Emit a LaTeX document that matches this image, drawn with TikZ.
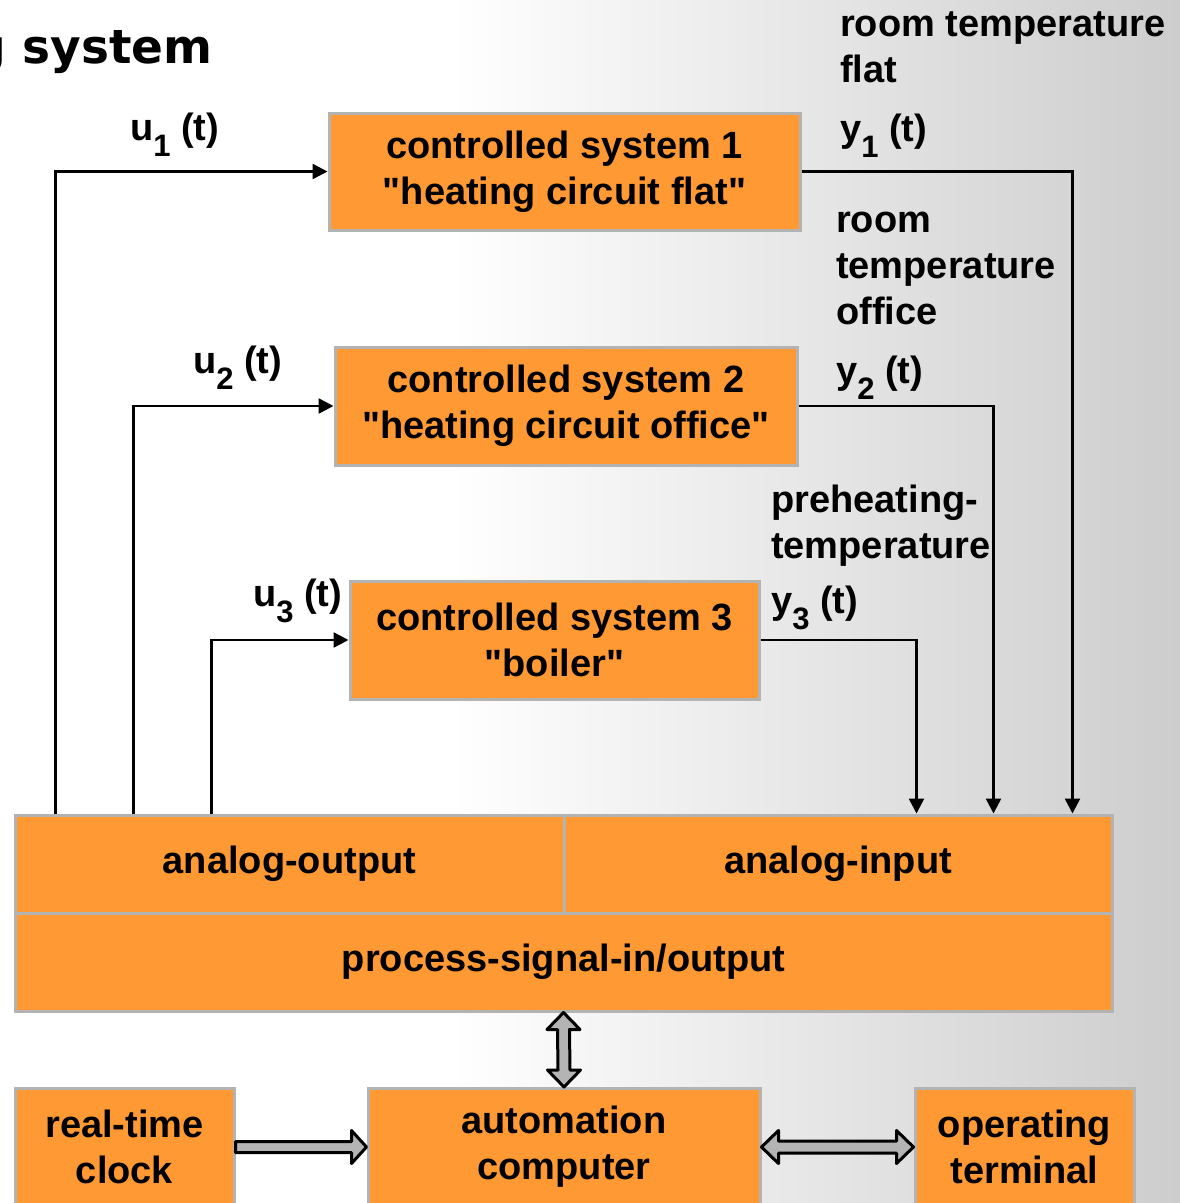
\documentclass[tikz,border=0pt]{standalone}
\usepackage{fontspec}
\setmainfont{Liberation Sans}
\newfontfamily\headfont{DejaVu Sans}
\usetikzlibrary{arrows.meta,calc}

\definecolor{boxorange}{HTML}{FF9933}
\definecolor{boxedge}{HTML}{B3B3B3}
\definecolor{arrowgray}{HTML}{B4B4B4}
\definecolor{bgright}{HTML}{CDCDCD}

% subscript index, lowered below the baseline
\newcommand\lowidx[1]{\raisebox{-16pt}{\fontsize{31}{31}\selectfont #1}}

\tikzset{
  blk/.style={draw=boxedge, line width=3pt, fill=boxorange, inner sep=0pt,
              align=center, font=\fontsize{38}{46}\selectfont\bfseries},
  sig/.style={line width=2.5pt, -{Triangle[length=15pt,width=15pt]}},
  lbl/.style={inner sep=0pt, anchor=base west, align=left,
              font=\fontsize{38}{46}\selectfont\bfseries},
  blockarrow/.style={draw=black, line width=3pt, fill=arrowgray, line join=round}
}

\begin{document}
\begin{tikzpicture}[x=1pt,y=-1pt]
  \useasboundingbox (0,0) rectangle (1180,1203);
  \clip (0,0) rectangle (1180,1203);

  % background: white fading into light gray on the right
  \fill[white] (0,0) rectangle (1180,1203);
  \shade[left color=white, right color=bgright] (450,0) rectangle (1180,1203);

  % heading
  \node[inner sep=0pt, anchor=base east, font=\headfont\bfseries\fontsize{47}{56}\selectfont]
    (head) at (213,63) {g system};

  % controlled systems
  \node[blk, minimum width=471pt, minimum height=117pt] (cs1) at (564.5,171.5)
    {controlled system 1\\\textquotedbl heating circuit flat\textquotedbl};
  \node[blk, minimum width=462pt, minimum height=118pt] (cs2) at (566,406)
    {controlled system 2\\\textquotedbl heating circuit office\textquotedbl};
  \node[blk, minimum width=409pt, minimum height=118pt] (cs3) at (554.5,640)
    {controlled system 3\\\textquotedbl boiler\textquotedbl};

  % process interface
  \node[blk, minimum width=549pt, minimum height=98pt] (ao) at (289.5,864) {analog-output};
  \node[blk, minimum width=548pt, minimum height=98pt] (ai) at (838,864) {analog-input};
  \node[blk, minimum width=1097pt, minimum height=98pt] (psio) at (563.5,962)
    {process-signal-in/output};

  % computer level
  \node[blk, minimum width=219pt, minimum height=117pt] (rtc) at (124.5,1147)
    {real-time\\clock};
  \node[blk, minimum width=392pt, minimum height=117pt] (ac) at (564,1147)
    {automation\\computer};
  \node[blk, minimum width=219pt, minimum height=117pt] (ot) at (1024.5,1147)
    {operating\\terminal};

  % actuating signals
  \draw[sig] ($(ao.north west)+(42,0)$) |- (cs1.west);
  \draw[sig] ($(ao.north west)+(120,0)$) |- (cs2.west);
  \draw[sig] ($(ao.north west)+(198,0)$) |- (cs3.west);

  % measured signals
  \draw[sig] (cs1.east) -| ($(ai.north east)+(-41,0)$);
  \draw[sig] (cs2.east) -| ($(ai.north east)+(-120,0)$);
  \draw[sig] (cs3.east) -| ($(ai.north east)+(-197,0)$);

  % signal labels
  \node[lbl] (u1) at (130,140) {u\lowidx{1} (t)};
  \node[lbl] (u2) at (193,373) {u\lowidx{2} (t)};
  \node[lbl] (u3) at (253,606) {u\lowidx{3} (t)};
  \node[lbl] (y1) at (840,141) {y\lowidx{1} (t)};
  \node[lbl] (y2) at (836,383) {y\lowidx{2} (t)};
  \node[lbl] (y3) at (771,613) {y\lowidx{3} (t)};

  % multi-line labels, placed by the baseline of their last line
  \node[lbl] (t1) at (840,82) {room temperature\\flat};
  \node[lbl] (t2) at (836,324) {room\\temperature\\office};
  \node[lbl] (t3) at (771,558) {preheating-\\temperature};

  % data paths between interface, computer, clock and terminal
  \draw[blockarrow] (psio.south) -- ++(16.5,17) -- ++(-10.5,0)
    -- ($(ac.north)+(6,-17)$) -- ++(10.5,0) -- (ac.north) -- ++(-16.5,-17)
    -- ++(10.5,0) -- ($(psio.south)+(-6,17)$) -- ++(-10.5,0) -- cycle;

  \draw[blockarrow] ($(rtc.east)+(0,-5.5)$) -- ($(ac.west)+(-15,-5.5)$)
    -- ++(0,-11) -- (ac.west) -- ++(-15,16.5) -- ++(0,-11)
    -- ($(rtc.east)+(0,5.5)$) -- cycle;

  \draw[blockarrow] (ac.east) -- ++(17,-16.5) -- ++(0,10.5)
    -- ($(ot.west)+(-17,-6)$) -- ++(0,-10.5) -- (ot.west) -- ++(-17,16.5)
    -- ++(0,-10.5) -- ($(ac.east)+(17,6)$) -- ++(0,10.5) -- cycle;
\end{tikzpicture}
\end{document}
